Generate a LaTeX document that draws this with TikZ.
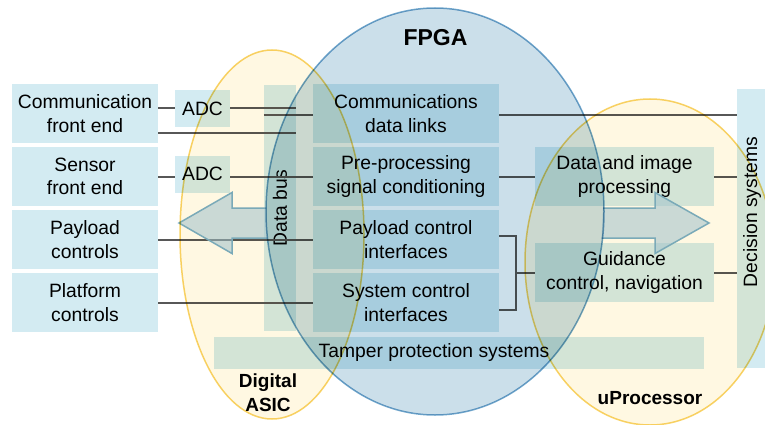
\documentclass[tikz,border=0pt]{standalone}
\usepackage{fontspec}
\setmainfont{Liberation Sans}
\usetikzlibrary{calc}
\definecolor{boxc}{HTML}{D3EBF2}
\definecolor{linec}{HTML}{575757}
\definecolor{yelf}{HTML}{FFF8E2}
\definecolor{yeld}{HTML}{F8D468}
\definecolor{bluf}{HTML}{CBDFEA}
\definecolor{blud}{HTML}{72A8CE}
\definecolor{arrf}{HTML}{A0C8E6}
\definecolor{arrd}{HTML}{7AAFD0}
\begin{document}
\begin{tikzpicture}[x=1pt,y=-1pt,
  box/.style={fill=boxc, inner sep=0pt, align=center, font=\fontsize{19.3}{23.5}\selectfont, text=black},
  conn/.style={draw=linec, line width=2pt},
  lbl/.style={font=\fontsize{19}{24}\selectfont\bfseries, align=center, inner sep=0pt, text=black},
  ring/.style={line width=1.5pt},
  arrfill/.style={fill=arrf, fill opacity=0.55},
  arrline/.style={draw=arrd, line width=1.5pt, line join=miter}
]
\useasboundingbox (0,0) rectangle (765,425);
\fill[white] (0,0) rectangle (765,425);

% left boxes
\node[box, minimum width=146pt, minimum height=59pt] (cfe) at (85,113.5) {Communication\\front end};
\node[box, minimum width=146pt, minimum height=59pt] (sfe) at (85,176.5) {Sensor\\front end};
\node[box, minimum width=146pt, minimum height=59pt] (pc)  at (85,239.5) {Payload\\controls};
\node[box, minimum width=146pt, minimum height=59pt] (plc) at (85,302.5) {Platform\\controls};
% ADCs
\node[box, minimum width=55pt, minimum height=37pt] (adc1) at (202.5,108.5) {ADC};
\node[box, minimum width=55pt, minimum height=37pt] (adc2) at (202.5,174) {ADC};
% data bus
\node[box, minimum width=246pt, minimum height=32pt, rotate=90] (bus) at (280,208) {Data bus};
% FPGA boxes
\node[box, minimum width=186pt, minimum height=59pt] (cdl) at (406,113.5) {Communications\\data links};
\node[box, minimum width=186pt, minimum height=59pt] (pre) at (406,176.5) {Pre-processing\\signal conditioning};
\node[box, minimum width=186pt, minimum height=59pt] (pci) at (406,239.5) {Payload control\\interfaces};
\node[box, minimum width=186pt, minimum height=59pt] (sci) at (406,302.5) {System control\\interfaces};
% uProcessor boxes
\node[box, minimum width=179pt, minimum height=59pt] (dip) at (624.5,176.5) {Data and image\\processing};
\node[box, minimum width=179pt, minimum height=59pt] (gdc) at (624.5,272.5) {Guidance\\control, navigation};
% decision systems
\node[box, minimum width=30pt, minimum height=279pt] (dec) at (752,228.5) {};
\node[box, fill=none, rotate=90] (declbl) at (752,212) {Decision systems};
% tamper
\node[box, minimum width=490pt, minimum height=32pt] (tps) at (459,353) {};
\node[box, fill=none] (tpslbl) at (434,353) {Tamper protection systems};

% connectors
\draw[conn] (adc1.west -| cfe.east) -- (adc1.west);
\draw[conn] (adc1.east) -- (adc1.east -| bus.south);
\draw[conn] ([yshift=-19.5pt]cfe.east) -- ([yshift=-19.5pt]cfe.east -| bus.south);
\draw[conn] (sfe.east) -- (sfe.east -| adc2.west);
\draw[conn] (sfe.east -| adc2.east) -- (sfe.east -| bus.south);
\draw[conn] (pc.east) -- (pc.east -| bus.south);
\draw[conn] (plc.east) -- (plc.east -| bus.south);
\draw[conn] ([yshift=-1.5pt]cdl.west -| bus.north) -- ([yshift=-1.5pt]cdl.west);
\draw[conn] (pre.west -| bus.north) -- (pre.west);
\draw[conn] (pci.west -| bus.north) -- (pci.west);
\draw[conn] (sci.west -| bus.north) -- (sci.west);
\draw[conn] ([yshift=-1.5pt]cdl.east) -- ([yshift=-1.5pt]cdl.east -| dec.west);
\draw[conn] (pre.east) -- (dip.west);
\draw[conn] (dip.east) -- (dip.east -| dec.west);
\draw[conn] (gdc.east) -- (gdc.east -| dec.west);
\coordinate (bk) at ([xshift=-19pt]gdc.west);
\draw[conn] ([yshift=3.5pt]pci.east) -| (bk) |- ([yshift=-7.5pt]sci.east);
\draw[conn] (bk) -- (gdc.west);

% block arrow, visible only outside the FPGA oval
\fill[arrfill] (266,208) -- (232,208) -- (232,192.5) -- (179,223) -- (232,253.5) -- (232,238) -- (267.4,238) -- cycle;
\draw[arrline] (266,208) -- (232,208) -- (232,192.5) -- (179,223) -- (232,253.5) -- (232,238) -- (267.4,238);
\fill[arrfill] (603,208) -- (655,208) -- (655,192.5) -- (709,223) -- (655,253.5) -- (655,238) -- (601.6,238) -- cycle;
\draw[arrline] (603,208) -- (655,208) -- (655,192.5) -- (709,223) -- (655,253.5) -- (655,238) -- (601.6,238);

% ovals
\begin{scope}[blend mode=multiply]
\path[ring, draw=yeld, fill=yelf] (272,234.5) ellipse [x radius=92pt, y radius=184.5pt];
\path[ring, draw=yeld, fill=yelf] (650,262) ellipse [x radius=125pt, y radius=163pt];
\path[ring, draw=blud, fill=bluf] (435,211.5) ellipse [x radius=169pt, y radius=203.5pt];
\end{scope}

% labels
\node[lbl, font=\fontsize{23}{27}\selectfont\bfseries] (fpga) at (435.5,38) {FPGA};
\node[lbl] (asic) at (268,393) {Digital\\ASIC};
\node[lbl] (uproc) at (650,398) {uProcessor};
\end{tikzpicture}
\end{document}
